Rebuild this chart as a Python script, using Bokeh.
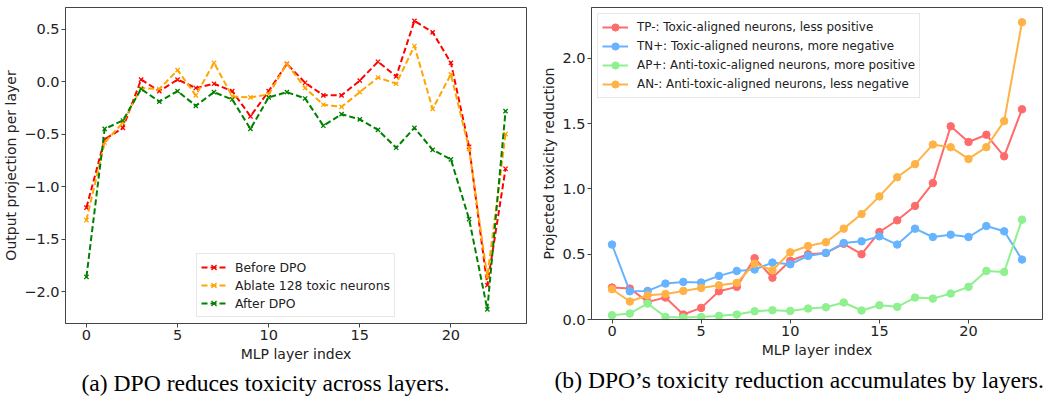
from bokeh.plotting import figure
from bokeh.models import Range1d, FixedTicker, CustomJSTickFormatter, Legend, LegendItem, Title
from bokeh.layouts import row
from bokeh.embed import file_html
from bokeh.resources import INLINE

layers = list(range(24))

# Panel (a): output projection per layer
before_dpo = [-1.20, -0.55, -0.44, 0.02, -0.09, 0.02, -0.06, -0.02, -0.09, -0.33,
              -0.09, 0.17, -0.01, -0.13, -0.13, 0.01, 0.19, 0.05, 0.58, 0.47,
              0.18, -0.62, -1.94, -0.83]
ablate_128 = [-1.32, -0.58, -0.39, -0.06, -0.07, 0.11, -0.13, 0.18, -0.14, -0.15,
              -0.12, 0.17, -0.06, -0.22, -0.24, -0.10, 0.04, -0.02, 0.34, -0.26,
              0.07, -0.64, -1.86, -0.50]
after_dpo = [-1.86, -0.45, -0.37, -0.07, -0.19, -0.09, -0.23, -0.10, -0.17, -0.45,
             -0.15, -0.10, -0.16, -0.42, -0.31, -0.36, -0.46, -0.63, -0.44, -0.65,
             -0.74, -1.31, -2.17, -0.28]

# Panel (b): projected toxicity reduction
tp_minus = [0.245, 0.237, 0.135, 0.168, 0.038, 0.089, 0.216, 0.25, 0.47, 0.32,
            0.45, 0.50, 0.51, 0.58, 0.50, 0.67, 0.76, 0.87, 1.045, 1.48,
            1.36, 1.415, 1.25, 1.61]
tn_plus = [0.574, 0.216, 0.219, 0.275, 0.288, 0.283, 0.334, 0.372, 0.383, 0.436,
           0.423, 0.487, 0.51, 0.586, 0.599, 0.637, 0.574, 0.696, 0.632, 0.65,
           0.632, 0.716, 0.676, 0.459]
ap_plus = [0.033, 0.046, 0.122, 0.02, 0.015, 0.02, 0.028, 0.038, 0.063, 0.071,
           0.066, 0.084, 0.094, 0.13, 0.069, 0.109, 0.097, 0.168, 0.16, 0.199,
           0.25, 0.372, 0.364, 0.765]
an_minus = [0.232, 0.138, 0.186, 0.196, 0.219, 0.242, 0.262, 0.28, 0.428, 0.377,
            0.515, 0.563, 0.592, 0.696, 0.808, 0.943, 1.09, 1.19, 1.34, 1.32,
            1.23, 1.32, 1.52, 2.277]

left_labels = ["Before DPO", "Ablate 128 toxic neurons", "After DPO"]
right_labels = ["TP-: Toxic-aligned neurons, less positive",
                "TN+: Toxic-aligned neurons, more negative",
                "AP+: Anti-toxic-aligned neurons, more positive",
                "AN-: Anti-toxic-aligned neurons, less negative"]
x_ticks = [0, 5, 10, 15, 20]
left_y_ticks = [-2.0, -1.5, -1.0, -0.5, 0.0, 0.5]
right_y_ticks = [0.0, 0.5, 1.0, 1.5, 2.0]

AX = "#444444"
FONT = "DejaVu Sans"


def style(p):
    for ax in p.axis:
        ax.axis_line_color = AX
        ax.major_tick_line_color = AX
        ax.major_tick_out = 4
        ax.major_tick_in = 0
        ax.minor_tick_line_color = None
        ax.major_label_text_font = FONT
        ax.major_label_text_font_size = "14.5px"
        ax.major_label_text_color = "#222222"
        ax.axis_label_text_font = FONT
        ax.axis_label_text_font_size = "14px"
        ax.axis_label_text_font_style = "normal"
        ax.axis_label_text_color = "#222222"
        ax.major_label_standoff = 2
    p.xaxis.axis_label_standoff = 3
    p.yaxis.axis_label_standoff = 2
    p.outline_line_color = AX
    p.outline_line_width = 1
    p.xgrid.visible = False
    p.ygrid.visible = False
    p.xaxis.ticker = FixedTicker(ticks=x_ticks)


fmt = CustomJSTickFormatter(code="return tick.toFixed(1).replace('-', '\u2212');")

# ---------- left ----------
p1 = figure(frame_width=461, frame_height=316, min_border_left=62, min_border_right=11,
            min_border_top=5, min_border_bottom=0,
            x_range=Range1d(-1.15, 24.15), y_range=Range1d(-2.305, 0.707),
            output_backend="svg", toolbar_location=None,
            x_axis_label="MLP layer index", y_axis_label="Output projection per layer")
style(p1)
p1.yaxis.ticker = FixedTicker(ticks=left_y_ticks)
p1.yaxis.formatter = fmt

items = []
for ys, col, lab in zip([before_dpo, ablate_128, after_dpo], ["#ff0000", "#ffa500", "#008000"], left_labels):
    l = p1.line(layers, ys, line_color=col, line_width=2, line_dash="6 3")
    s = p1.scatter(layers, ys, marker="x", size=6, line_color=col, line_width=1.3)
    items.append(LegendItem(label=lab, renderers=[l, s]))

leg1 = Legend(items=items, location=(131, 6), label_text_font=FONT, label_text_font_size="12.4px",
              glyph_width=25, glyph_height=18, label_height=18, spacing=0, padding=4,
              label_standoff=9, margin=0, border_line_color="#d0d0d0", border_line_width=1,
              background_fill_alpha=0.85, label_text_color="#222222")
p1.add_layout(leg1, "center")
p1.add_layout(Title(text="(a) DPO reduces toxicity across layers.", text_font="Liberation Serif",
                    text_font_size="23.6px", text_font_style="normal", text_color="black",
                    align="left", offset=16, standoff=6), "below")

# ---------- right ----------
p2 = figure(frame_width=451, frame_height=312, min_border_left=54, min_border_right=1,
            min_border_top=7, min_border_bottom=0,
            x_range=Range1d(-1.15, 24.15), y_range=Range1d(0, 2.39),
            output_backend="svg", toolbar_location=None,
            x_axis_label="MLP layer index", y_axis_label="Projected toxicity reduction")
style(p2)
p2.yaxis.ticker = FixedTicker(ticks=right_y_ticks)
p2.yaxis.formatter = fmt

items2 = []
for ys, col, lab in zip([tp_minus, tn_plus, ap_plus, an_minus],
                        ["#ff6b6b", "#66b3ff", "#8ef08e", "#ffb347"], right_labels):
    l = p2.line(layers, ys, line_color=col, line_width=2)
    s = p2.scatter(layers, ys, marker="circle", size=7.5, fill_color=col, line_color=col)
    items2.append(LegendItem(label=lab, renderers=[l, s]))

leg2 = Legend(items=items2, location="top_left", label_text_font=FONT, label_text_font_size="11.9px",
              glyph_width=26, glyph_height=18, label_height=18, spacing=1, padding=4,
              label_standoff=9, margin=6, border_line_color="#d0d0d0", border_line_width=1,
              background_fill_alpha=0.85, label_text_color="#222222")
p2.add_layout(leg2, "center")
p2.add_layout(Title(text="(b) DPO\u2019s toxicity reduction accumulates by layers.", text_font="Liberation Serif",
                    text_font_size="23.6px", text_font_style="normal", text_color="black",
                    align="left", offset=-37, standoff=8), "below")

layout = row(p1, p2)
open("out.html", "w").write(file_html(layout, INLINE))
